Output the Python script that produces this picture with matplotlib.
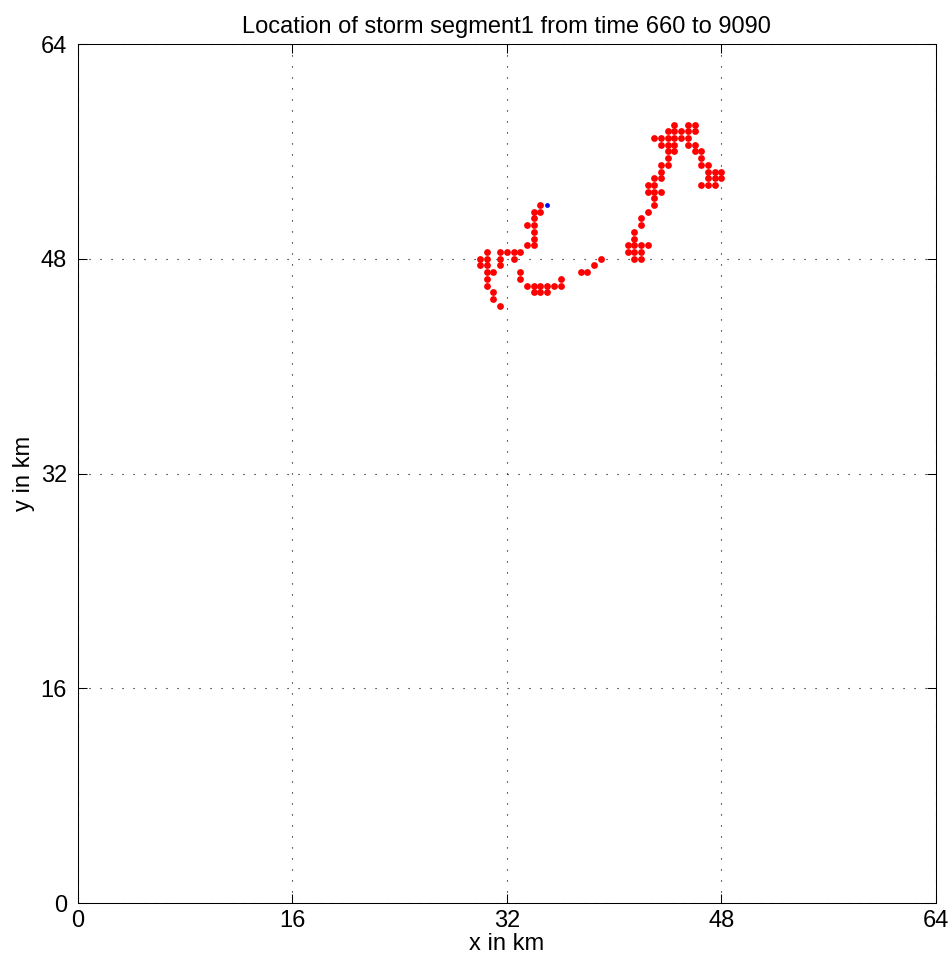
import numpy as np
import matplotlib
matplotlib.use("Agg")
import matplotlib.pyplot as plt

plt.rcParams['font.family'] = ['Liberation Sans', 'DejaVu Sans']

# storm cell positions (km)
rows = {
    58.0: [44.5, 45.5, 46.0],
    57.5: [44.0, 44.5, 45.0, 45.5, 46.0],
    57.0: [43.0, 43.5, 44.0, 44.5, 45.0, 45.5],
    56.5: [43.5, 44.0, 44.5, 45.5, 46.0],
    56.0: [44.0, 44.5, 46.0, 46.5],
    55.5: [44.0, 46.5],
    55.0: [43.5, 44.0, 46.5, 47.0],
    54.5: [43.5, 47.0, 47.5, 48.0],
    54.0: [43.0, 43.5, 47.0, 47.5, 48.0],
    53.5: [42.5, 43.0, 46.5, 47.0, 47.5],
    53.0: [42.5, 43.0, 43.5],
    52.5: [43.0],
    52.0: [34.5, 43.0],
    51.5: [34.0, 34.5, 42.5],
    51.0: [34.0, 42.0],
    50.5: [33.5, 34.0, 42.0],
    50.0: [34.0, 41.5],
    49.5: [34.0, 41.5],
    49.0: [33.5, 34.0, 41.0, 41.5, 42.0, 42.5],
    48.5: [30.5, 31.5, 32.0, 32.5, 33.0, 41.0, 41.5, 42.0],
    48.0: [30.0, 30.5, 31.5, 32.5, 39.0, 41.5, 42.0],
    47.5: [30.0, 30.5, 31.5, 38.5],
    47.0: [30.5, 31.0, 33.0, 37.5, 38.0],
    46.5: [30.5, 33.0, 36.0],
    46.0: [30.5, 33.5, 34.0, 34.5, 35.0, 35.5, 36.0],
    45.5: [31.0, 34.0, 34.5, 35.0],
    45.0: [31.0],
    44.5: [31.5],
}
x_red = np.array([x for y, xs in rows.items() for x in xs])
y_red = np.array([y for y, xs in rows.items() for x in xs])

x_start = [35.0]
y_start = [52.0]

fig = plt.figure(figsize=(9.53, 9.65), dpi=100)
ax = fig.add_axes([0.0818, 0.0642, 0.9002, 0.8902])

ax.scatter(x_red, y_red, s=24, c='red', marker='o', linewidths=0, zorder=3)
ax.scatter(x_start, y_start, s=12, c='blue', marker='o', linewidths=0, zorder=4)

ax.set_xlim(0, 64)
ax.set_ylim(0, 64)
ticks = [0, 16, 32, 48, 64]
ax.set_xticks(ticks)
ax.set_yticks(ticks)
ax.tick_params(direction='in', top=True, right=True, length=6.5, width=0.75,
               labelsize=17)
ax.tick_params(axis='x', pad=5)
ax.tick_params(axis='y', pad=8)
for sp in ax.spines.values():
    sp.set_linewidth(0.75)
ax.grid(True, color='black', linestyle=(0, (1, 8.9)), linewidth=0.8)

ax.set_title('Location of storm segment1 from time 660 to 9090', fontsize=17, pad=8)
ax.set_xlabel('x in km', fontsize=17, labelpad=1)
ax.set_ylabel('y in km', fontsize=17, labelpad=4)

fig.savefig('out.png', dpi=100)
